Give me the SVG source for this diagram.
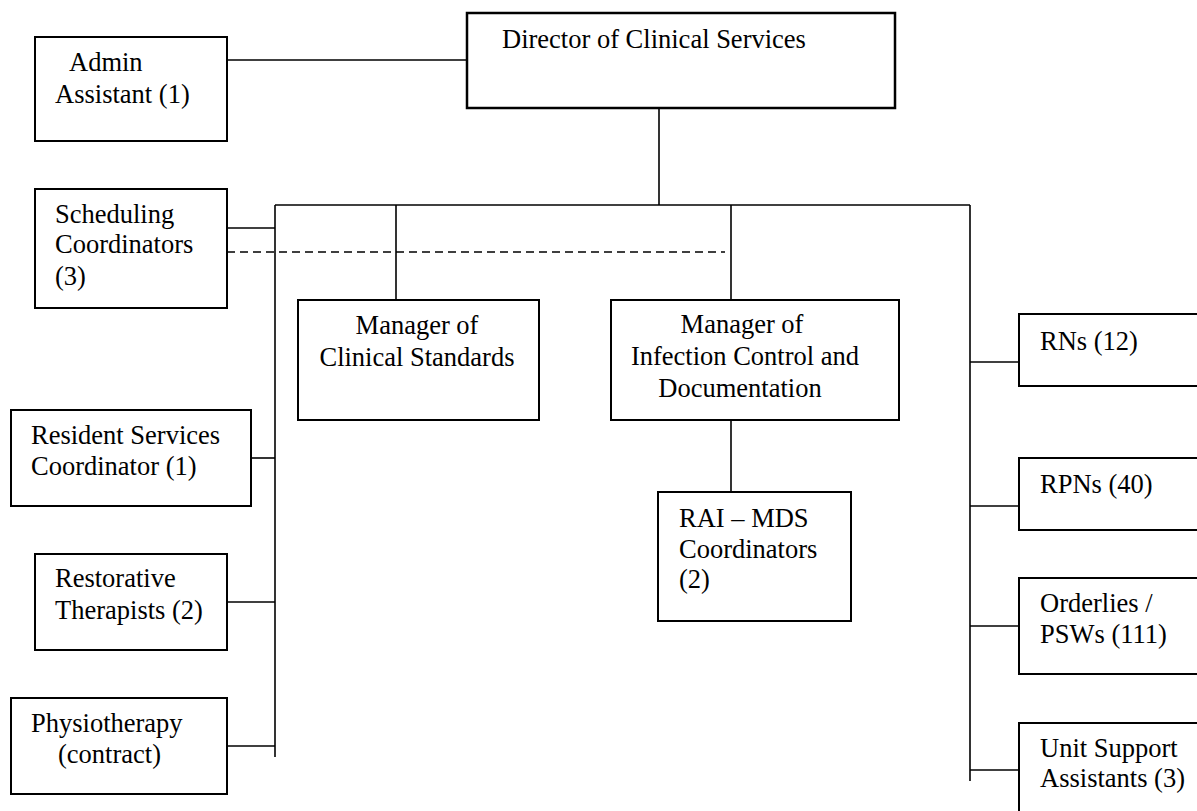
<svg xmlns="http://www.w3.org/2000/svg" width="1197" height="811" viewBox="0 0 1197 811">
<style>
.box{fill:#fff;stroke:#000;stroke-width:2}
.dir{fill:#fff;stroke:#000;stroke-width:2.5}
.ln{stroke:#000;stroke-width:1.6;fill:none}
.dash{stroke:#000;stroke-width:1.6;fill:none;stroke-dasharray:8 5}
.c{text-anchor:middle}
</style>
<rect width="1197" height="811" fill="#fff"/>
<g id="connectors">
<line class="ln" x1="227" y1="60" x2="467" y2="60"/>
<line class="ln" x1="659" y1="108" x2="659" y2="205"/>
<line class="ln" x1="275" y1="205" x2="970" y2="205"/>
<line class="ln" x1="275" y1="205" x2="275" y2="757"/>
<line class="ln" x1="970" y1="205" x2="970" y2="781"/>
<line class="ln" x1="396" y1="205" x2="396" y2="300"/>
<line class="ln" x1="731" y1="205" x2="731" y2="300"/>
<line class="ln" x1="731" y1="421" x2="731" y2="492"/>
<line class="ln" x1="227" y1="228" x2="275" y2="228"/>
<line class="dash" x1="227" y1="252" x2="725" y2="252"/>
<line class="ln" x1="251" y1="458" x2="275" y2="458"/>
<line class="ln" x1="227" y1="602" x2="275" y2="602"/>
<line class="ln" x1="227" y1="746" x2="275" y2="746"/>
<line class="ln" x1="970" y1="362" x2="1019" y2="362"/>
<line class="ln" x1="970" y1="506" x2="1019" y2="506"/>
<line class="ln" x1="970" y1="626" x2="1019" y2="626"/>
<line class="ln" x1="970" y1="770" x2="1019" y2="770"/>
</g>
<g font-family="Liberation Serif, Times New Roman, serif" font-size="26.5" fill="#000">
<g id="director">
<rect class="dir" x="467" y="13" width="428" height="95"/>
<text x="502" y="48">Director of Clinical Services</text>
</g>
<g id="admin">
<rect class="box" x="35" y="37" width="192" height="104"/>
<text x="69" y="71">Admin</text>
<text x="55" y="103">Assistant (1)</text>
</g>
<g id="scheduling">
<rect class="box" x="35" y="189" width="192" height="119"/>
<text x="55" y="223">Scheduling</text>
<text x="55" y="253">Coordinators</text>
<text x="55" y="285">(3)</text>
</g>
<g id="mgr-standards">
<rect class="box" x="298" y="300" width="241" height="120"/>
<text class="c" x="417" y="334">Manager of</text>
<text class="c" x="417" y="366">Clinical Standards</text>
</g>
<g id="mgr-infection">
<rect class="box" x="611" y="300" width="288" height="120"/>
<text class="c" x="742" y="333">Manager of</text>
<text class="c" x="745" y="365">Infection Control and</text>
<text class="c" x="740" y="397">Documentation</text>
</g>
<g id="rai-mds">
<rect class="box" x="658" y="492" width="193" height="129"/>
<text x="679" y="527">RAI – MDS</text>
<text x="679" y="558">Coordinators</text>
<text x="679" y="588">(2)</text>
</g>
<g id="resident-services">
<rect class="box" x="11" y="410" width="240" height="96"/>
<text x="31" y="444">Resident Services</text>
<text x="31" y="475">Coordinator (1)</text>
</g>
<g id="restorative">
<rect class="box" x="35" y="554" width="192" height="96"/>
<text x="55" y="587">Restorative</text>
<text x="55" y="619">Therapists (2)</text>
</g>
<g id="physiotherapy">
<rect class="box" x="11" y="698" width="216" height="96"/>
<text x="31" y="732">Physiotherapy</text>
<text x="58" y="763">(contract)</text>
</g>
<g id="rns">
<rect class="box" x="1019" y="314" width="200" height="72"/>
<text x="1040" y="350">RNs (12)</text>
</g>
<g id="rpns">
<rect class="box" x="1019" y="458" width="200" height="72"/>
<text x="1040" y="493">RPNs (40)</text>
</g>
<g id="orderlies">
<rect class="box" x="1019" y="578" width="200" height="96"/>
<text x="1040" y="612">Orderlies /</text>
<text x="1040" y="643">PSWs (111)</text>
</g>
<g id="unit-support">
<rect class="box" x="1019" y="723" width="200" height="110"/>
<text x="1040" y="757">Unit Support</text>
<text x="1040" y="787">Assistants (3)</text>
</g>
</g>
</svg>
